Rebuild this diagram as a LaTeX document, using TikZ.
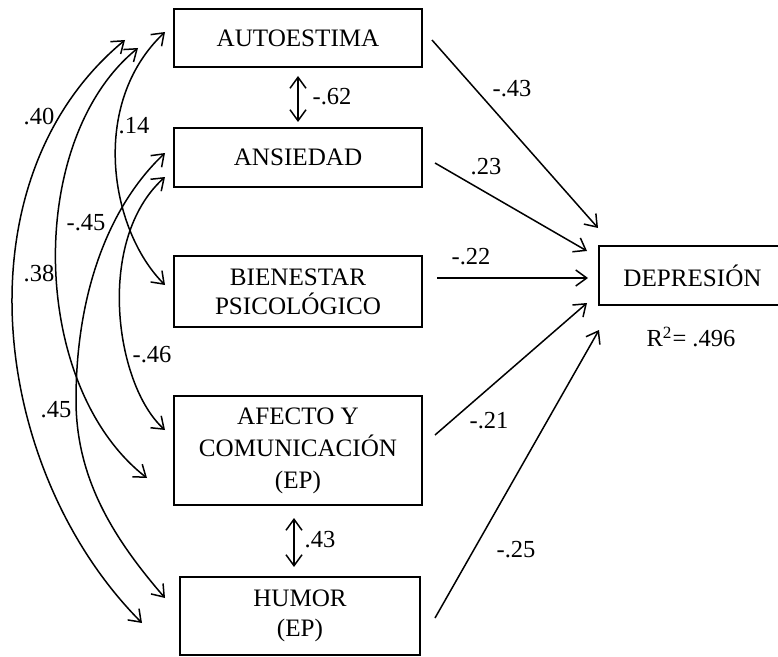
\documentclass[tikz,border=0pt]{standalone}
\usepackage{fontspec}
\setmainfont{Liberation Serif}
\usetikzlibrary{arrows.meta}
\begin{document}
\begin{tikzpicture}[x=0.5bp,y=-0.5bp,
  var/.style={draw, line width=1bp, align=center, inner sep=0pt,
    font=\fontsize{12.6}{15}\selectfont},
  barb/.tip={Straight Barb[length=5.5bp,width=8bp]},
  link/.style={line width=0.75bp, -barb},
  cov/.style={line width=0.75bp, barb-barb},
  coef/.style={font=\fontsize{12.3}{14}\selectfont, inner sep=0pt}]
\useasboundingbox (0,0) rectangle (778,657);

% observed variables
\node[var, minimum width=124bp, minimum height=29bp]   (A) at (298,38)    {AUTOESTIMA};
\node[var, minimum width=124bp, minimum height=29.5bp] (N) at (298,157.5) {ANSIEDAD};
\node[var, minimum width=124bp, minimum height=35.5bp, font=\fontsize{12.6}{14.5}\selectfont]
  (B) at (298,291.5) {BIENESTAR\\PSICOLÓGICO};
\node[var, minimum width=124bp, minimum height=54.5bp, font=\fontsize{12.6}{16}\selectfont]
  (F) at (298,450.5) {AFECTO Y\\COMUNICACIÓN\\(EP)};
\node[var, minimum width=120bp, minimum height=39bp]   (H) at (300,616)   {HUMOR\\(EP)};
\node[var, minimum width=93.5bp, minimum height=29.5bp] (D) at (692.5,275.5) {DEPRESIÓN};
\node[coef] (R2) at (691,337) {R\textsuperscript{2}= .496};

% end points of the covariance arcs
\coordinate (a1) at (125,40);  \coordinate (a2) at (142,623);
\coordinate (b1) at (138,48);  \coordinate (b2) at (147,478);
\coordinate (c1) at (165,32);  \coordinate (c2) at (165,285);
\coordinate (d1) at (165,153); \coordinate (d2) at (165,598);
\coordinate (e1) at (165,177); \coordinate (e2) at (165,430);

% covariance arcs
\draw[cov] (a1) .. controls (-44,180) and (-10,470) .. (a2);
\draw[cov] (b1) .. controls (25,140) and (29,386) .. (b2);
\draw[cov] (c1) .. controls (89,104) and (110,230) .. (c2);
\draw[cov] (d1) .. controls (105,210) and (76,300) .. (76,400)
                .. controls (76,480) and (115,540) .. (d2);
\draw[cov] (e1) .. controls (95,240) and (115,385) .. (e2);

% direct covariances
\draw[cov, shorten <=4bp, shorten >=2.5bp] (A.south) -- (N.north);
\draw[cov, shorten <=6bp, shorten >=4.5bp]
  ([xshift=-2bp]F.south) -- ([xshift=-2bp]F.south |- H.north);

% regression paths
\coordinate (sA) at (432,40);  \coordinate (eA) at (598,228);
\coordinate (sN) at (435,163); \coordinate (eN) at (587,251);
\coordinate (sB) at (437,278); \coordinate (eB) at (588,278);
\coordinate (sF) at (435,435); \coordinate (eF) at (587,303);
\coordinate (sH) at (435,618); \coordinate (eH) at (599,330);
\draw[link] (sA) -- (eA);
\draw[link] (sN) -- (eN);
\draw[link] (sB) -- (eB);
\draw[link] (sF) -- (eF);
\draw[link] (sH) -- (eH);

% coefficients
\node[coef] (k40) at (39,117)  {.40};
\node[coef] (k14) at (134,126) {.14};
\node[coef] (k45n) at (86,223) {-.45};
\node[coef] (k38) at (39,274)  {.38};
\node[coef] (k46) at (152,355) {-.46};
\node[coef] (k45) at (56,410)  {.45};
\node[coef] (k62) at (332,97)  {-.62};
\node[coef] (k43) at (320,540) {.43};
\node[coef] (kA) at (512,89)   {-.43};
\node[coef] (kN) at (486,167)  {.23};
\node[coef] (kB) at (471,257)  {-.22};
\node[coef] (kF) at (489,421)  {-.21};
\node[coef] (kH) at (516,550)  {-.25};
\end{tikzpicture}
\end{document}
